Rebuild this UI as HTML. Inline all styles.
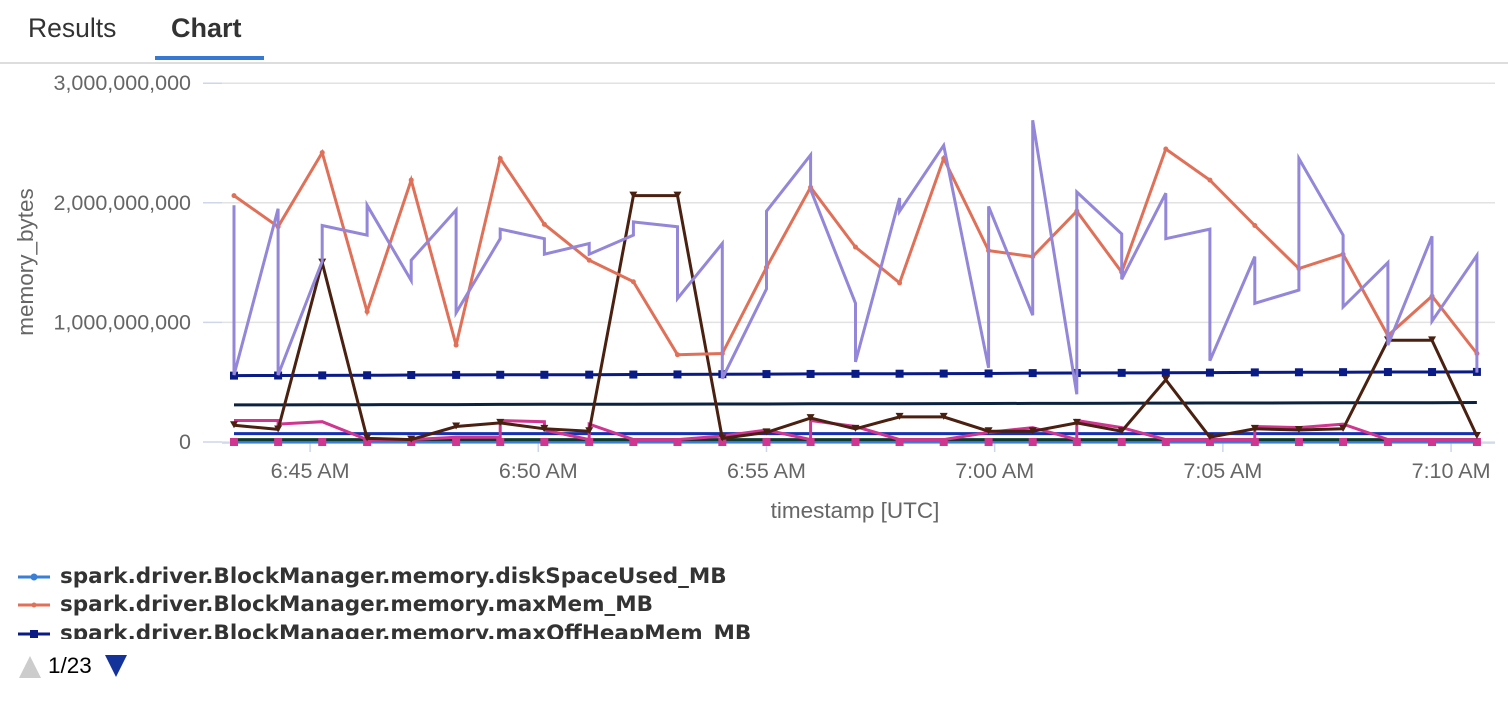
<!DOCTYPE html>
<html><head><meta charset="utf-8"><style>
body{margin:0;width:1508px;height:710px;background:#fff;font-family:"Liberation Sans",sans-serif;overflow:hidden;position:relative}
.tab{position:absolute;top:13px;font-size:26.5px;color:#333}
#legend{position:absolute;left:0;top:560px;width:1508px;height:79px;overflow:hidden}
.li{position:absolute;left:18px;height:28px;font-weight:bold;font-size:21.5px;color:#333;white-space:nowrap;font-family:"DejaVu Sans",sans-serif}
.li svg{position:absolute;left:0;top:6px}
.li span{position:absolute;left:42px;top:0px}
</style></head><body>
<div class="tab" style="left:28px">Results</div>
<div class="tab" style="left:171px;font-weight:bold;font-size:27px">Chart</div>
<div style="position:absolute;left:155px;top:56px;width:109px;height:4px;background:#3579d2"></div>
<div style="position:absolute;left:0;top:62px;width:1508px;height:2px;background:#ddd"></div>
<svg id="chart" width="1508" height="540" style="position:absolute;left:0;top:0"></svg>
<div id="legend">
 <div class="li" style="top:4px"><svg width="34" height="14"><line x1="0" y1="7" x2="32" y2="7" stroke="#3a7fd5" stroke-width="3"/><circle cx="16" cy="7" r="3.5" fill="#3a7fd5"/></svg><span>spark.driver.BlockManager.memory.diskSpaceUsed_MB</span></div>
 <div class="li" style="top:32px"><svg width="34" height="14"><line x1="0" y1="7" x2="32" y2="7" stroke="#e07058" stroke-width="3"/><circle cx="16" cy="7" r="2.5" fill="#e07058"/></svg><span>spark.driver.BlockManager.memory.maxMem_MB</span></div>
 <div class="li" style="top:61px"><svg width="34" height="14"><line x1="0" y1="7" x2="32" y2="7" stroke="#0b1b86" stroke-width="3"/><rect x="12" y="3" width="8" height="8" fill="#0b1b86"/></svg><span>spark.driver.BlockManager.memory.maxOffHeapMem_MB</span></div>
</div>
<div style="position:absolute;left:18px;top:652px;height:28px;font-size:22.5px;color:#000">
 <svg width="24" height="24" style="position:absolute;left:0;top:2px"><polygon points="12,2 23,24 1,24" fill="#ccc"/></svg>
 <span style="position:absolute;left:30px;top:1px">1/23</span>
 <svg width="24" height="24" style="position:absolute;left:86px;top:2px"><polygon points="1,1 23,1 12,23" fill="#14339a"/></svg>
</div>
<script>
const times = ["06:43:20","06:44:18","06:45:16","06:46:15","06:47:13","06:48:12","06:49:10","06:50:08","06:51:07","06:52:05","06:53:03","06:54:02","06:55:00","06:55:58","06:56:57","06:57:55","06:58:53","06:59:52","07:00:50","07:01:48","07:02:47","07:03:45","07:04:43","07:05:42","07:06:40","07:07:38","07:08:37","07:09:35","07:10:34"];
const yTicks = [0,1e9,2e9,3e9];
const yTickLabels = ["0","1,000,000,000","2,000,000,000","3,000,000,000"];
const xTickMinutes = [45,50,55,60,65,70];
const xTickLabels = ["6:45 AM","6:50 AM","6:55 AM","7:00 AM","7:05 AM","7:10 AM"];
const maxMem = [2.06,1.80,2.42,1.09,2.19,0.81,2.37,1.82,1.52,1.34,0.73,0.74,1.46,2.13,1.63,1.33,2.37,1.60,1.55,1.93,1.42,2.45,2.19,1.81,1.45,1.57,0.89,1.22,0.74];
const memA = [1.98,1.95,1.51,1.73,1.35,1.94,1.70,1.70,1.66,1.73,1.80,1.66,1.28,2.40,1.16,2.04,2.48,0.62,1.06,0.40,1.74,2.08,1.78,1.55,1.27,1.73,1.50,1.72,1.56];
const memB = [0.56,0.56,1.81,1.98,1.52,1.08,1.78,1.57,1.57,1.84,1.20,0.53,1.93,2.11,0.67,1.93,2.48,1.97,2.69,2.09,1.36,1.70,0.68,1.16,2.37,1.13,0.81,1.01,0.58];
const offHeap = [0.555,0.556,0.557,0.558,0.560,0.561,0.562,0.562,0.563,0.564,0.565,0.567,0.568,0.569,0.570,0.571,0.572,0.573,0.576,0.577,0.578,0.579,0.580,0.582,0.583,0.584,0.585,0.585,0.586];
const heapLine = [0.31,0.31,0.311,0.312,0.313,0.313,0.314,0.315,0.316,0.316,0.317,0.318,0.318,0.319,0.32,0.32,0.321,0.322,0.323,0.323,0.324,0.325,0.326,0.326,0.327,0.328,0.329,0.329,0.33];
const onHeap = [0.07,0.07,0.07,0.07,0.07,0.07,0.07,0.07,0.07,0.07,0.07,0.07,0.07,0.07,0.07,0.07,0.07,0.07,0.07,0.07,0.07,0.07,0.07,0.07,0.07,0.07,0.07,0.07,0.07];
const usedLow = [0.02,0.02,0.02,0.02,0.02,0.02,0.02,0.02,0.02,0.02,0.02,0.02,0.02,0.02,0.02,0.02,0.02,0.02,0.02,0.02,0.02,0.02,0.02,0.02,0.02,0.02,0.02,0.02,0.02];
const brown = [0.14,0.105,1.50,0.03,0.02,0.13,0.16,0.11,0.09,2.06,2.06,0.03,0.08,0.20,0.11,0.21,0.21,0.09,0.09,0.16,0.09,0.52,0.04,0.11,0.10,0.11,0.85,0.85,0.05];
const pinkA = [0.18,0.18,0.17,0.02,0.02,0.04,0.04,0.17,0.02,0.02,0.02,0.05,0.10,0.02,0.13,0.02,0.02,0.08,0.12,0.02,0.12,0.02,0.02,0.02,0.12,0.15,0.02,0.02,0.02];
const pinkB = [0.18,0.15,0.17,0.02,0.02,0.04,0.18,0.10,0.15,0.02,0.02,0.05,0.10,0.18,0.13,0.02,0.02,0.08,0.12,0.18,0.12,0.02,0.02,0.13,0.12,0.15,0.02,0.02,0.02];
const disk = [0,0,0,0,0,0,0,0,0,0,0,0,0,0,0,0,0,0,0,0,0,0,0,0,0,0,0,0,0];

const NS="http://www.w3.org/2000/svg";
const svg=document.getElementById('chart');
const X0=234, PXMIN=45.64, T0=(6*60+43)+20/60;
function tmin(s){const p=s.split(':').map(Number);return p[0]*60+p[1]+p[2]/60;}
function xT(m){return X0+(m-T0)*PXMIN;}
function xI(i){return xT(tmin(times[i]));}
function y(v){return 442-v*119.6;}
function el(tag,attrs,parent){const e=document.createElementNS(NS,tag);for(const k in attrs)e.setAttribute(k,attrs[k]);(parent||svg).appendChild(e);return e;}

yTicks.forEach((t,i)=>{
 const yy=y(t/1e9);
 const g=el('line',{x1:222,x2:1495,y1:yy,y2:yy,stroke:'#e2e2e2','stroke-width':1.5});
 
 
 const tk=el('line',{x1:203,x2:222,y1:yy,y2:yy,stroke:'#cdd6ea','stroke-width':1.5});
 
 
 const tx=el('text',{x:191,y:yy+7,'text-anchor':'end','font-size':21.5,fill:'#666'});
 tx.textContent=yTickLabels[i];
 
 
});
const ax=el('line',{x1:222,x2:1495,y1:443,y2:443,stroke:'#cdd6ea','stroke-width':1.5});


xTickMinutes.forEach((m,i)=>{
 const xx=xT(6*60+m);
 const tk=el('line',{x1:xx,x2:xx,y1:443,y2:452,stroke:'#cdd6ea','stroke-width':1.5});
 
 
 const tx=el('text',{x:xx,y:478,'text-anchor':'middle','font-size':21.5,fill:'#666'});
 tx.textContent=xTickLabels[i];
 
 
});
const xt=el('text',{x:855,y:518,'text-anchor':'middle','font-size':22.5,fill:'#666'});
xt.textContent='timestamp [UTC]';


const yt=el('text',{x:0,y:0,'text-anchor':'middle','font-size':22.5,fill:'#666',transform:'translate(33,262) rotate(-90)'});
yt.textContent='memory_bytes';



function single(arr){return arr.map((v,i)=>xI(i).toFixed(1)+','+y(v).toFixed(1)).join(' ');}
function paired(a,b){const p=[];a.forEach((v,i)=>{p.push(xI(i).toFixed(1)+','+y(v).toFixed(1));p.push(xI(i).toFixed(1)+','+y(b[i]).toFixed(1));});return p.join(' ');}
function line(pts,color,w,name){const l=el('polyline',{points:pts,fill:'none',stroke:color,'stroke-width':w,'stroke-linejoin':'miter'});return l;}
function markers(arr,color,shape,name){arr.forEach((v,i)=>{const cx=xI(i),cy=y(v);let m;
 if(shape==='sq')m=el('rect',{x:cx-4,y:cy-4,width:8,height:8,fill:color});
 else if(shape==='tri')m=el('polygon',{points:`${cx-4},${cy-4} ${cx+4},${cy-4} ${cx},${cy+3}`,fill:color});
 else m=el('circle',{cx:cx,cy:cy,r:shape,fill:color});
 
 });}

line(single(disk),'#3a7fd5',3,'disk-space-used-line'); markers(disk,'#3a7fd5',3,'disk-space-used-point');
line(single(usedLow),'#0e3b2e',3,'memory-used-line');
line(single(heapLine),'#0c2340',3,'on-heap-mem-line');
line(single(onHeap),'#1530b0',3,'off-heap-used-line');
line(single(offHeap),'#0b1b86',3,'max-off-heap-mem-line'); markers(offHeap,'#0b1b86','sq','max-off-heap-mem-point');
line(paired(pinkA,pinkB),'#d0358f',3,'remaining-mem-line'); markers(disk,'#d0358f','sq','remaining-mem-point');
line(single(brown),'#4a2010',3,'memory-used-mb-line'); markers(brown,'#4a2010','tri','memory-used-mb-point');
line(single(maxMem),'#e07058',3,'max-mem-line'); markers(maxMem,'#e07058',2.5,'max-mem-point');
line(paired(memA,memB),'#9486d8',3,'max-on-heap-mem-line');
</script>
</body></html>
